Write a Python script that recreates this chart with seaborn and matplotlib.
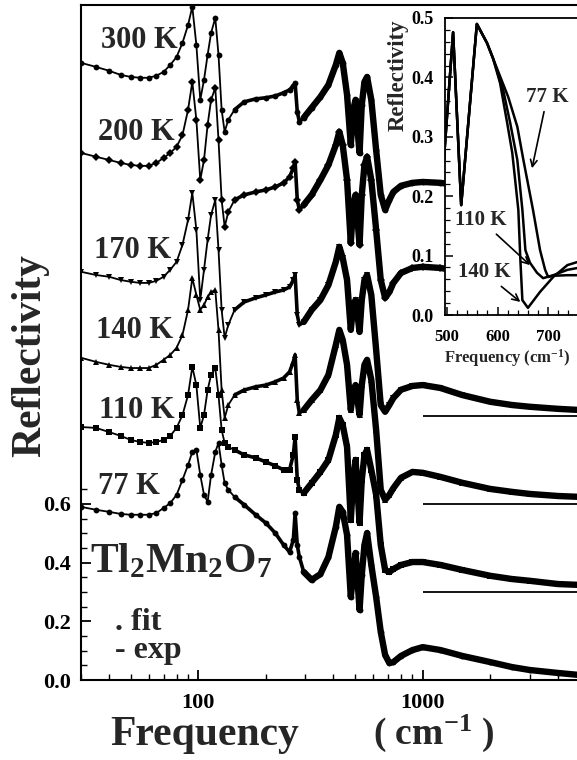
import numpy as np
import pandas as pd
import matplotlib
matplotlib.use("Agg")
import matplotlib.pyplot as plt
import seaborn as sns
from matplotlib.ticker import FixedLocator, NullFormatter, LogLocator, MultipleLocator

# ---------------- data (displayed values, curves shifted for clarity) ----------------
freq = [30, 35, 40, 45, 50, 55, 60, 65, 70, 75,
        80, 85, 90, 94, 98, 102, 106, 110, 114, 119,
        123, 127, 131, 136, 145, 160, 180, 200, 220, 240,
        255, 265, 270, 276, 282, 295, 320, 350, 380, 410,
        425, 440, 460, 478, 490, 502, 512, 523, 535, 550,
        565, 590, 620, 650, 680, 710, 740, 800, 900, 1000,
        1200, 1500, 2000, 2500, 3000, 4000, 5000]

r300 = [2.103, 2.089, 2.076, 2.062, 2.055, 2.052, 2.052, 2.059, 2.072, 2.096,
        2.123, 2.171, 2.232, 2.294, 2.164, 1.977, 2.045, 2.130, 2.205, 2.256,
        2.130, 1.943, 1.868, 1.909, 1.943, 1.970, 1.980, 1.984, 1.990, 2.001,
        2.011, 2.025, 2.035, 1.936, 1.902, 1.916, 1.950, 1.987, 2.028, 2.096,
        2.137, 2.103, 1.994, 1.823, 1.943, 1.977, 1.875, 1.796, 1.960, 2.038,
        2.055, 1.977, 1.806, 1.653, 1.602, 1.636, 1.663, 1.684, 1.694, 1.697,
        1.694, 1.684, 1.670, 1.663, 1.660, 1.656, 1.653]

r200 = [1.796, 1.783, 1.772, 1.762, 1.755, 1.752, 1.752, 1.762, 1.779, 1.796,
        1.817, 1.857, 1.943, 2.038, 1.909, 1.704, 1.772, 1.892, 1.977, 2.018,
        1.840, 1.636, 1.544, 1.595, 1.636, 1.653, 1.663, 1.670, 1.680, 1.694,
        1.714, 1.745, 1.765, 1.636, 1.602, 1.619, 1.653, 1.704, 1.755, 1.823,
        1.868, 1.823, 1.704, 1.489, 1.619, 1.653, 1.568, 1.483, 1.653, 1.755,
        1.783, 1.704, 1.534, 1.363, 1.302, 1.322, 1.353, 1.387, 1.404, 1.408,
        1.404, 1.391, 1.377, 1.370, 1.363, 1.360, 1.357]

r170 = [1.391, 1.380, 1.374, 1.363, 1.357, 1.353, 1.353, 1.360, 1.374, 1.398,
        1.425, 1.483, 1.568, 1.660, 1.534, 1.295, 1.398, 1.500, 1.585, 1.636,
        1.466, 1.261, 1.166, 1.210, 1.261, 1.288, 1.302, 1.312, 1.322, 1.329,
        1.339, 1.363, 1.380, 1.244, 1.210, 1.220, 1.261, 1.295, 1.346, 1.425,
        1.476, 1.438, 1.363, 1.193, 1.278, 1.295, 1.244, 1.186, 1.295, 1.363,
        1.380, 1.312, 1.125, 0.937, 0.914, 0.937, 0.961, 0.989, 1.002, 1.005,
        0.995, 0.971, 0.948, 0.937, 0.931, 0.924, 0.920]

r140 = [1.098, 1.084, 1.074, 1.067, 1.063, 1.063, 1.063, 1.074, 1.091, 1.108,
        1.132, 1.176, 1.261, 1.370, 1.312, 1.261, 1.278, 1.305, 1.322, 1.329,
        1.193, 0.988, 0.893, 0.937, 0.971, 0.988, 0.999, 1.005, 1.016, 1.029,
        1.050, 1.084, 1.108, 0.954, 0.910, 0.920, 0.954, 0.988, 1.040, 1.142,
        1.193, 1.159, 1.074, 0.920, 0.988, 1.005, 0.954, 0.903, 1.005, 1.074,
        1.091, 1.023, 0.852, 0.648, 0.614, 0.631, 0.654, 0.689, 0.709, 0.706,
        0.692, 0.672, 0.651, 0.641, 0.634, 0.627, 0.624]

r110 = [0.862, 0.859, 0.845, 0.832, 0.818, 0.811, 0.808, 0.811, 0.818, 0.832,
        0.859, 0.903, 0.971, 1.067, 1.005, 0.859, 0.903, 0.988, 1.040, 1.063,
        0.971, 0.852, 0.808, 0.794, 0.784, 0.767, 0.757, 0.743, 0.730, 0.716,
        0.716, 0.767, 0.828, 0.682, 0.648, 0.637, 0.671, 0.709, 0.750, 0.835,
        0.893, 0.869, 0.794, 0.545, 0.682, 0.750, 0.648, 0.535, 0.682, 0.767,
        0.784, 0.716, 0.631, 0.460, 0.375, 0.368, 0.378, 0.392, 0.402, 0.402,
        0.392, 0.375, 0.355, 0.344, 0.338, 0.327, 0.324]

r77 = [0.590, 0.580, 0.573, 0.566, 0.563, 0.563, 0.563, 0.569, 0.586, 0.603,
       0.631, 0.682, 0.733, 0.777, 0.784, 0.699, 0.631, 0.607, 0.699, 0.777,
       0.808, 0.733, 0.671, 0.648, 0.624, 0.597, 0.563, 0.535, 0.501, 0.460,
       0.436, 0.477, 0.569, 0.460, 0.419, 0.368, 0.341, 0.361, 0.419, 0.522,
       0.590, 0.573, 0.494, 0.283, 0.358, 0.433, 0.341, 0.239, 0.358, 0.460,
       0.501, 0.392, 0.283, 0.164, 0.085, 0.058, 0.061, 0.082, 0.102, 0.112,
       0.102, 0.082, 0.061, 0.044, 0.034, 0.024, 0.017]

labels = ["300 K", "200 K", "170 K", "140 K", "110 K", "77 K"]
markers = ["o", "D", "v", "^", "s", "o"]
baselines = [0.3, 0.6, 0.9]          # zero levels of the shifted curves

# inset (unshifted reflectivity near the plasma edge)
in77_f = [492, 512, 528, 559, 579, 591, 621, 639, 651, 670, 684, 694, 700, 710, 738, 757]
in77_r = [0.24, 0.476, 0.185, 0.49, 0.458, 0.432, 0.367, 0.317, 0.261, 0.177, 0.109, 0.076, 0.064, 0.066, 0.067, 0.067]
in110_f = [492, 512, 528, 559, 579, 591, 611, 625, 639, 649, 655, 664, 678, 690, 710, 738, 757]
in110_r = [0.24, 0.476, 0.185, 0.49, 0.458, 0.432, 0.379, 0.323, 0.261, 0.177, 0.109, 0.088, 0.071, 0.062, 0.067, 0.076, 0.079]
in140_f = [492, 512, 528, 559, 579, 591, 605, 619, 629, 641, 645, 649, 660, 684, 710, 738, 757]
in140_r = [0.24, 0.476, 0.185, 0.49, 0.458, 0.432, 0.39, 0.323, 0.273, 0.177, 0.093, 0.025, 0.012, 0.039, 0.064, 0.084, 0.089]

# ---------------- style ----------------
sns.set_style("white")
plt.rcParams["font.family"] = ["Liberation Serif", "DejaVu Serif"]
plt.rcParams["font.weight"] = "bold"
plt.rcParams["axes.labelweight"] = "bold"
plt.rcParams["mathtext.fontset"] = "custom"
plt.rcParams["mathtext.rm"] = "Liberation Serif:bold"
plt.rcParams["mathtext.bf"] = "Liberation Serif:bold"
plt.rcParams["mathtext.it"] = "Liberation Serif:bold"
plt.rcParams["mathtext.default"] = "rm"

W, H = 577, 760
fig = plt.figure(figsize=(W / 100, H / 100), dpi=100)
fig.patch.set_facecolor("white")

# ---------------- main axes ----------------
ax = fig.add_axes([81 / W, 1 - 680 / H, 496 / W, 675 / H])
ax.set_xscale("log")
ax.set_facecolor("white")

all_curves = [r300, r200, r170, r140, r110, r77]
for name, vals, mk in zip(labels, all_curves, markers):
    df = pd.DataFrame({"f": freq, "r": vals})
    sns.lineplot(data=df, x="f", y="r", ax=ax, color="black", lw=1.3,
                 marker=mk, markersize=4.2, markeredgewidth=0, errorbar=None)
    mid = df[df["f"] >= 140]
    sns.lineplot(data=mid, x="f", y="r", ax=ax, color="black", lw=2.6,
                 errorbar=None, solid_joinstyle="round", solid_capstyle="round")
    hi = df[df["f"] >= 290]
    sns.lineplot(data=hi, x="f", y="r", ax=ax, color="black", lw=4.6,
                 errorbar=None, solid_joinstyle="round", solid_capstyle="round")

ax.hlines(baselines, 1000, 4870, color="black", lw=1.3)

ax.set_xlim(30, 4870)
ax.set_ylim(0, 2.30)
ax.set_xticks([100, 1000])
ax.set_xticklabels(["100", "1000"])
ax.xaxis.set_minor_locator(LogLocator(base=10, subs=np.arange(2, 10)))
ax.xaxis.set_minor_formatter(NullFormatter())
ax.set_yticks([0, 0.2, 0.4, 0.6])
ax.set_yticklabels(["0.0", "0.2", "0.4", "0.6"])
ax.yaxis.set_minor_locator(FixedLocator(np.arange(0.05, 0.66, 0.05)))
ax.tick_params(which="both", direction="in", top=False, right=False,
               bottom=True, left=True, colors="black")
ax.tick_params(which="major", length=7, width=1.3, labelsize=16)
ax.tick_params(axis="x", which="major", pad=9)
ax.tick_params(axis="y", which="major", pad=7)
ax.tick_params(which="minor", length=4, width=1.0)
for s in ["left", "bottom", "top"]:
    ax.spines[s].set_color("black")
    ax.spines[s].set_linewidth(1.5)
ax.spines["right"].set_visible(False)

ax.set_xlabel("Frequency", fontsize=30, fontweight="bold")
ax.xaxis.set_label_coords(0.25, -0.081)
ax.xaxis.label.set_va("center")
ax.set_ylabel("Reflectivity", fontsize=30, fontweight="bold")
ax.yaxis.set_label_coords(-0.103, 0.481)
ax.yaxis.label.set_va("center")
fig.text(434 / W, 1 - 733 / H, r"( cm$^{-1}$ )", fontsize=27, ha="center", va="center")

label_pos = [(139, 41), (136, 133), (133, 250), (135, 330), (137, 410), (129, 486)]
for name, (px, py) in zip(labels, label_pos):
    fig.text(px / W, 1 - py / H, name, fontsize=22, ha="center", va="center")

fig.text(90 / W, 1 - 572 / H, r"Tl$_2$Mn$_2$O$_7$", fontsize=30, ha="left", va="baseline")
fig.text(115 / W, 1 - 630 / H, ". fit", fontsize=23, ha="left", va="baseline")
fig.text(115 / W, 1 - 658 / H, "- exp", fontsize=23, ha="left", va="baseline")

# ---------------- inset ----------------
axin = fig.add_axes([445 / W, 1 - 315 / H, 132 / W, 297 / H])
axin.set_facecolor("white")
for f_, r_ in [(in77_f, in77_r), (in110_f, in110_r), (in140_f, in140_r)]:
    sns.lineplot(x=f_, y=r_, ax=axin, color="black", lw=1.8, errorbar=None, sort=False)
axin.set_xlim(496, 757)
axin.set_ylim(0, 0.5)
axin.set_xticks([500, 600, 700])
axin.xaxis.set_minor_locator(MultipleLocator(20))
axin.set_yticks([0, 0.1, 0.2, 0.3, 0.4, 0.5])
axin.set_yticklabels(["0.0", "0.1", "0.2", "0.3", "0.4", "0.5"])
axin.yaxis.set_minor_locator(MultipleLocator(0.02))
axin.tick_params(which="both", direction="in", top=False, right=False,
                 bottom=True, left=True, colors="black")
axin.tick_params(which="major", length=6, width=1.1)
axin.tick_params(which="minor", length=3.5, width=0.9)
axin.tick_params(axis="y", labelsize=13, pad=8)
axin.tick_params(axis="x", labelsize=12, pad=10)
for s in ["left", "bottom", "top"]:
    axin.spines[s].set_color("black")
    axin.spines[s].set_linewidth(1.3)
axin.spines["right"].set_visible(False)
axin.set_ylabel("Reflectivity", fontsize=16.5, fontweight="bold")
axin.yaxis.set_label_coords(-0.356, 0.808)
axin.yaxis.label.set_va("center")
axin.set_xlabel(r"Frequency (cm$^{-1}$)", fontsize=12, fontweight="bold")
axin.xaxis.set_label_coords(0.47, -0.145)
axin.xaxis.label.set_va("center")

arrow = dict(arrowstyle="->", color="black", lw=1.2, shrinkA=1, shrinkB=0, mutation_scale=12)
axin.annotate("77 K", xy=(668, 0.247), xytext=(698, 0.367), ha="center", va="center",
              fontsize=15, arrowprops=arrow)
axin.annotate("110 K", xy=(664, 0.084), xytext=(567, 0.16), ha="center", va="center",
              fontsize=15, arrowprops=arrow)
axin.annotate("140 K", xy=(645, 0.022), xytext=(573, 0.072), ha="center", va="center",
              fontsize=15, arrowprops=arrow)

fig.savefig("out.png", dpi=100, facecolor="white")
